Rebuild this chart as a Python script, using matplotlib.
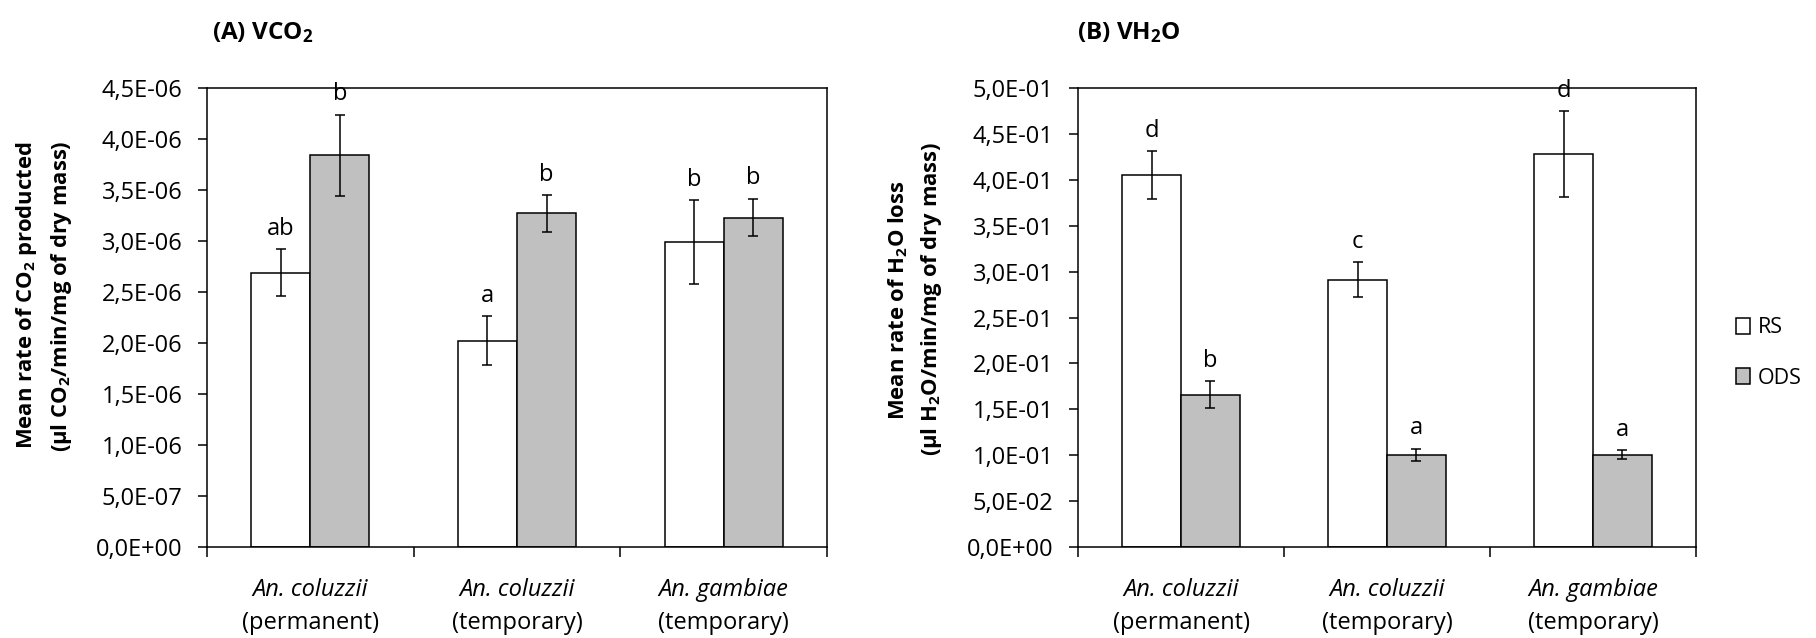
import matplotlib
matplotlib.use("Agg")
import matplotlib.pyplot as plt
from matplotlib.ticker import FuncFormatter, FixedLocator
from matplotlib.patches import Patch
import numpy as np

plt.rcParams['font.family'] = ['Open Sans', 'DejaVu Sans']
plt.rcParams['mathtext.fontset'] = 'custom'
plt.rcParams['mathtext.rm'] = 'Open Sans'
plt.rcParams['mathtext.it'] = 'Open Sans:italic'
plt.rcParams['mathtext.bf'] = 'Open Sans:bold'

# ---------------- data ----------------
species = ["An. coluzzii", "An. coluzzii", "An. gambiae"]
habitats = ["(permanent)", "(temporary)", "(temporary)"]
series = ["RS", "ODS"]

vco2_rs = [2.69e-6, 2.02e-6, 2.99e-6]
vco2_rs_err = [0.23e-6, 0.24e-6, 0.41e-6]
vco2_ods = [3.84e-6, 3.27e-6, 3.23e-6]
vco2_ods_err = [0.40e-6, 0.18e-6, 0.185e-6]
vco2_rs_letters = ["ab", "a", "b"]
vco2_ods_letters = ["b", "b", "b"]

vh2o_rs = [0.405, 0.291, 0.428]
vh2o_rs_err = [0.026, 0.019, 0.047]
vh2o_ods = [0.166, 0.1005, 0.1005]
vh2o_ods_err = [0.015, 0.0065, 0.0047]
vh2o_rs_letters = ["d", "c", "d"]
vh2o_ods_letters = ["b", "a", "a"]

vco2_ticks = [0, 0.5e-6, 1.0e-6, 1.5e-6, 2.0e-6, 2.5e-6, 3.0e-6, 3.5e-6, 4.0e-6, 4.5e-6]
vh2o_ticks = [0, 0.05, 0.10, 0.15, 0.20, 0.25, 0.30, 0.35, 0.40, 0.45, 0.50]

# ---------------- style ----------------
W, H = 1816, 638
DPI = 100
FS = 17          # tick labels, category labels, letters
FS_TITLE = 17.5
FS_YLAB = 15.8
FS_LEG = 15.5
WHITE = "#FFFFFF"
GRAY = "#C0C0C0"
LW = 1.1

fig = plt.figure(figsize=(W / DPI, H / DPI), dpi=DPI)

def fx(px):
    return px / W

def fy(py):
    return 1 - py / H

def sci_comma(v, pos=None):
    return f"{v:.1E}".replace(".", ",")

def draw_panel(ax, rs, rs_err, ods, ods_err, rs_let, ods_let, ticks):
    n = len(species)
    centers = np.arange(n) + 0.5
    bw = 0.286
    ekw = dict(ecolor="black", elinewidth=1.1, capthick=1.1)
    ax.bar(centers - bw / 2, rs, bw, yerr=rs_err, color=WHITE, edgecolor="black",
           linewidth=LW, capsize=3.6, error_kw=ekw, label=series[0], zorder=2)
    ax.bar(centers + bw / 2, ods, bw, yerr=ods_err, color=GRAY, edgecolor="black",
           linewidth=LW, capsize=3.6, error_kw=ekw, label=series[1], zorder=2)
    for xc, v, e, t in zip(centers - bw / 2, rs, rs_err, rs_let):
        ax.annotate(t, xy=(xc, v + e), xytext=(0, 6), textcoords="offset points",
                    ha="center", va="bottom", fontsize=FS, annotation_clip=False)
    for xc, v, e, t in zip(centers + bw / 2, ods, ods_err, ods_let):
        ax.annotate(t, xy=(xc, v + e), xytext=(0, 6), textcoords="offset points",
                    ha="center", va="bottom", fontsize=FS, annotation_clip=False)
    ax.set_xlim(0, n)
    ax.set_ylim(ticks[0], ticks[-1])
    ax.yaxis.set_major_locator(FixedLocator(ticks))
    ax.yaxis.set_major_formatter(FuncFormatter(sci_comma))
    ax.xaxis.set_major_locator(FixedLocator(np.arange(n + 1)))
    ax.set_xticklabels([])
    ax.tick_params(axis="y", direction="out", length=6.7, width=LW, pad=11,
                   labelsize=FS, left=True, right=False)
    ax.tick_params(axis="x", direction="out", length=7.2, width=LW)
    for s in ax.spines.values():
        s.set_linewidth(LW)
        s.set_color("black")
    for xc, sp, hb in zip(centers, species, habitats):
        ax.annotate(sp, xy=(xc, 0), xycoords=("data", "axes fraction"),
                    xytext=(0, -31), textcoords="offset points",
                    ha="center", va="center", fontsize=FS, fontstyle="italic")
        ax.annotate(hb, xy=(xc, 0), xycoords=("data", "axes fraction"),
                    xytext=(0, -54.5), textcoords="offset points",
                    ha="center", va="center", fontsize=FS)

axA = fig.add_axes([fx(207), fy(547), fx(827) - fx(207), fy(88) - fy(547)])
axB = fig.add_axes([fx(1078), fy(547), fx(1696) - fx(1078), fy(88) - fy(547)])

draw_panel(axA, vco2_rs, vco2_rs_err, vco2_ods, vco2_ods_err,
           vco2_rs_letters, vco2_ods_letters, vco2_ticks)
draw_panel(axB, vh2o_rs, vh2o_rs_err, vh2o_ods, vh2o_ods_err,
           vh2o_rs_letters, vh2o_ods_letters, vh2o_ticks)

# titles
fig.text(fx(212), fy(33), r"(A) VCO$_\mathbf{2}$", fontsize=FS_TITLE,
         fontweight="bold", ha="left", va="center")
fig.text(fx(1077), fy(33), r"(B) VH$_\mathbf{2}$O", fontsize=FS_TITLE,
         fontweight="bold", ha="left", va="center")

# y labels
fig.text(fx(27), fy(295), r"Mean rate of CO$_\mathbf{2}$ producted", rotation=90,
         fontsize=FS_YLAB, fontweight="bold", ha="center", va="center")
fig.text(fx(62), fy(296), r"(µl CO$_\mathbf{2}$/min/mg of dry mass)", rotation=90,
         fontsize=FS_YLAB, fontweight="bold", ha="center", va="center")
fig.text(fx(898), fy(300), r"Mean rate of H$_\mathbf{2}$O loss", rotation=90,
         fontsize=FS_YLAB, fontweight="bold", ha="center", va="center")
fig.text(fx(932), fy(299), r"(µl H$_\mathbf{2}$O/min/mg of dry mass)", rotation=90,
         fontsize=FS_YLAB, fontweight="bold", ha="center", va="center")

# legend
handles = [Patch(facecolor=WHITE, edgecolor="black", linewidth=LW),
           Patch(facecolor=GRAY, edgecolor="black", linewidth=LW)]
fig.legend(handles, series, loc="center left", bbox_to_anchor=(fx(1736), fy(353)),
           frameon=False, borderpad=0, borderaxespad=0, handlelength=0.65,
           handleheight=0.75, handletextpad=0.35, labelspacing=1.35, fontsize=FS_LEG)

fig.savefig("out.png", dpi=DPI)
